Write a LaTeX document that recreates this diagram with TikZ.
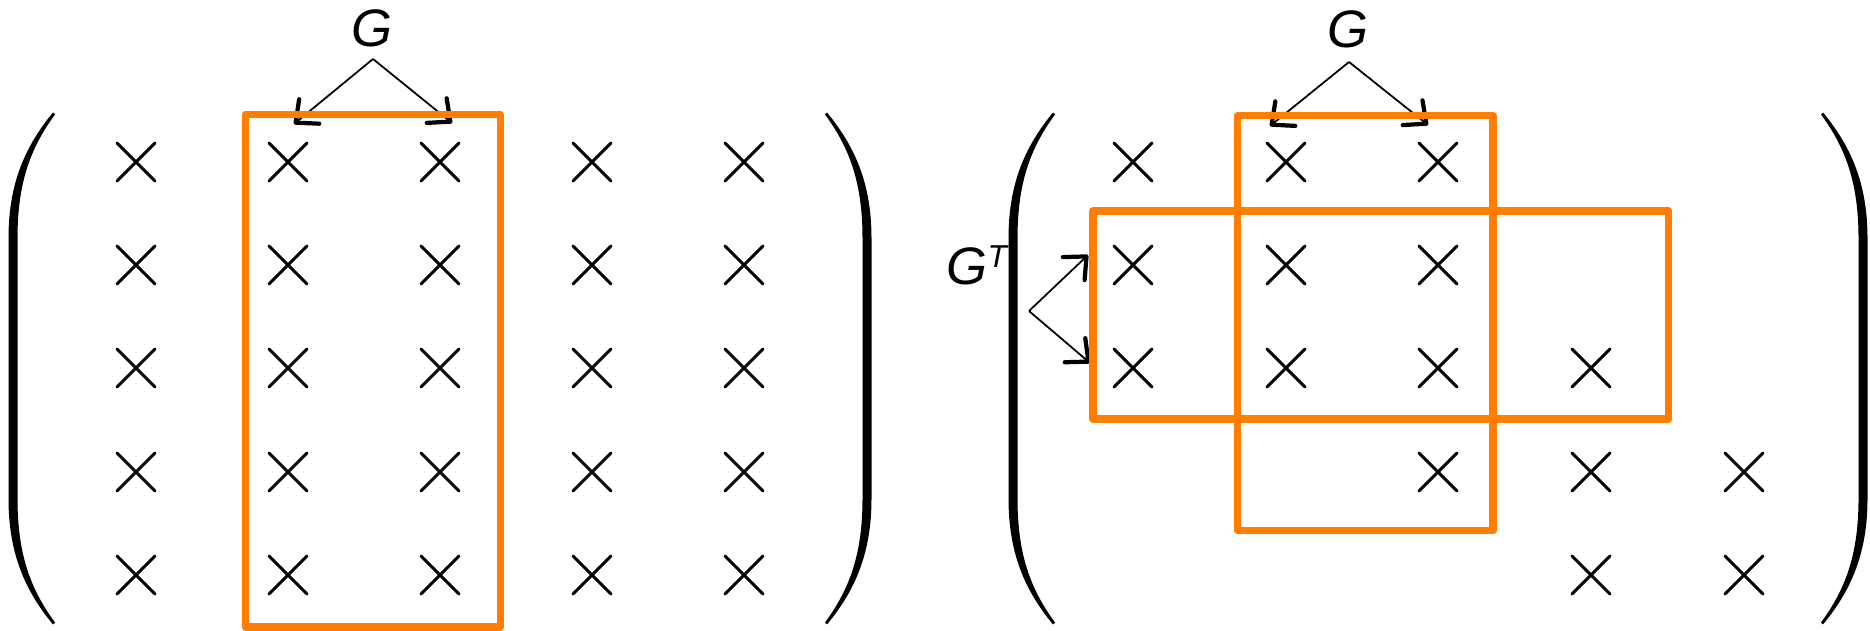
\documentclass[tikz,border=0pt]{standalone}
\usepackage{fontspec}
\setmainfont{Liberation Sans}
\usetikzlibrary{arrows.meta}
\definecolor{blockorange}{RGB}{255,125,0}

\begin{document}
\begin{tikzpicture}[x=0.01cm,y=-0.01cm,
  lbl/.style={font=\fontsize{15}{17}\selectfont\itshape, inner sep=0pt},
  pointer/.style={line width=0.5pt, -{Straight Barb[length=5pt,width=9pt,line width=1.2pt,round]}},
  xmark/.style={line width=0.85pt, line cap=round},
  block/.style={draw=blockorange, line width=2.1pt, line join=round}]

  \useasboundingbox (0,0) rectangle (1870,631);

  % parentheses
  \foreach \px/\dir in {13/1, 867/-1, 1013/1, 1863/-1}
    \fill[shift={(\px,368.5)}, xscale=\dir]
      (40,-256) .. controls (12,-222) and (-4.5,-185) .. (-4.5,-130)
      -- (-4.5,130) .. controls (-4.5,185) and (12,222) .. (40,256)
      -- (42,254) .. controls (17,220) and (4.5,185) .. (4.5,130)
      -- (4.5,-130) .. controls (4.5,-185) and (17,-220) .. (42,-254) -- cycle;

  % entries, left matrix
  \foreach \cx in {136,288,440,592,744}
    \foreach \cy in {162,265,368,472,575}
      \draw[xmark, shift={(\cx,\cy)}] (-19,-19) -- (19,19) (-19,19) -- (19,-19);

  % entries, right matrix
  \foreach \cx/\cy in {1133/162, 1286/162, 1438/162,
                       1133/265, 1286/265, 1438/265,
                       1133/368, 1286/368, 1438/368, 1591/368,
                       1438/472, 1591/472, 1744/472,
                       1591/575, 1744/575}
    \draw[xmark, shift={(\cx,\cy)}] (-19,-19) -- (19,19) (-19,19) -- (19,-19);

  % labels
  \node[lbl] (gleft) at (372,28) {G};
  \node[lbl] (gright) at (1348,29) {G};
  \node[lbl, anchor=base west] (gtrans) at (946,285)
    {G\raisebox{5pt}{\fontsize{9}{9}\selectfont T}};

  \coordinate (gleft-fork) at (373,59);
  \coordinate (gright-fork) at (1349,62);
  \coordinate (gtrans-fork) at (1029,311);
  \coordinate (col-a) at (294,124);
  \coordinate (col-b) at (452,123);
  \coordinate (col-c) at (1270,126);
  \coordinate (col-d) at (1428,125);
  \coordinate (row-a) at (1088,255);
  \coordinate (row-b) at (1090,363);

  \draw[pointer] (gleft-fork) -- (col-a);
  \draw[pointer] (gleft-fork) -- (col-b);
  \draw[pointer] (gright-fork) -- (col-c);
  \draw[pointer] (gright-fork) -- (col-d);
  \draw[pointer] (gtrans-fork) -- (row-a);
  \draw[pointer] (gtrans-fork) -- (row-b);

  % blocks
  \draw[block] (245.5,114.5) rectangle (500.5,627);
  \draw[block] (1237.5,115.5) rectangle (1493,530.5);
  \draw[block] (1093,211) rectangle (1668.5,419);

\end{tikzpicture}
\end{document}
